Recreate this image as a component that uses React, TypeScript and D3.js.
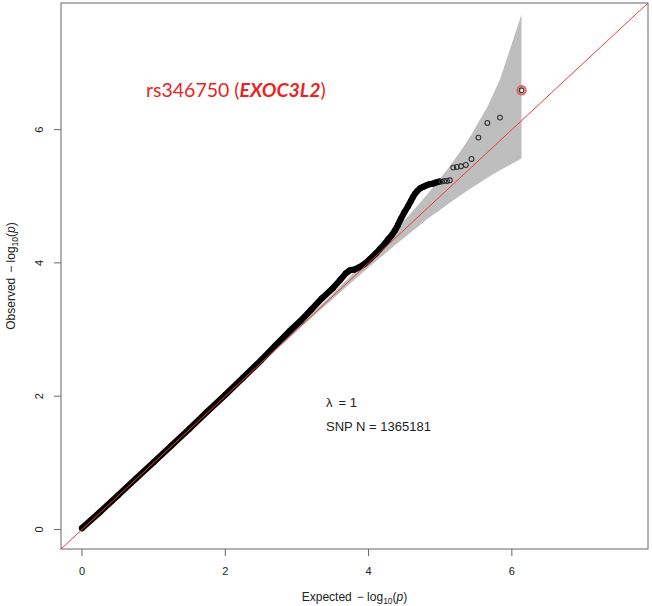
import React from 'react';
import * as d3 from 'd3';

// dense part of the QQ curve (expected vs observed -log10 p)
const denseExpected = [0, 0.25, 0.5, 0.75, 1.0, 1.25, 1.5, 1.75, 2.0, 2.25, 2.5, 2.7, 2.9, 3.05, 3.2, 3.35, 3.5, 3.6, 3.68, 3.74, 3.8, 3.88, 3.95, 4.02, 4.1, 4.16, 4.22, 4.27, 4.32, 4.37, 4.41, 4.45, 4.5, 4.55, 4.59, 4.62, 4.65, 4.68, 4.72, 4.76, 4.8, 4.85, 4.9, 4.95, 4.99];
const denseObserved = [0.02, 0.26, 0.51, 0.76, 1.01, 1.26, 1.51, 1.77, 2.02, 2.28, 2.54, 2.76, 2.98, 3.13, 3.3, 3.47, 3.62, 3.74, 3.84, 3.89, 3.9, 3.94, 3.99, 4.06, 4.14, 4.21, 4.28, 4.35, 4.41, 4.49, 4.57, 4.66, 4.76, 4.85, 4.93, 4.99, 5.04, 5.08, 5.12, 5.14, 5.16, 5.18, 5.19, 5.21, 5.22];

// top hits, drawn as separate circles
const tailExpected = [5.021, 5.056, 5.094, 5.135, 5.181, 5.232, 5.29, 5.357, 5.436, 5.533, 5.658, 5.834, 6.135];
const tailObserved = [5.22, 5.23, 5.23, 5.24, 5.43, 5.44, 5.45, 5.47, 5.56, 5.88, 6.1, 6.18, 6.59];

// 95% confidence band
const bandExpected = [0, 2.135, 3.135, 3.436, 3.834, 4.135, 4.436, 4.658, 4.834, 4.959, 5.135, 5.29, 5.436, 5.658, 5.834, 6.135];
const bandUpper = [0, 2.144, 3.163, 3.475, 3.896, 4.224, 4.566, 4.829, 5.048, 5.211, 5.454, 5.686, 5.925, 6.344, 6.751, 7.732];
const bandLower = [0, 2.126, 3.109, 3.399, 3.776, 4.054, 4.324, 4.515, 4.672, 4.764, 4.902, 5.019, 5.125, 5.276, 5.389, 5.568];

const xTicks = [0, 2, 4, 6];
const yTicks = [0, 2, 4, 6];

const lambdaValue = '1';
const snpCount = '1365181';
const topSnp = 'rs346750';
const topGene = 'EXOC3L2';

const W = 652;
const H = 606;
const box = { left: 61, right: 648, top: 3, bottom: 549 };
const domain: [number, number] = [-0.293, 7.9];
const axisColor = '#666';
const font = '"Liberation Sans", Arial, sans-serif';

export default function App() {
  const x = d3.scaleLinear().domain(domain).range([box.left, box.right]);
  const y = d3.scaleLinear().domain(domain).range([box.bottom, box.top]);

  const dense = denseExpected.map((e, i) => [e, denseObserved[i]] as [number, number]);
  const tail = tailExpected.map((e, i) => [e, tailObserved[i]] as [number, number]);

  const line = d3.line<[number, number]>().x(d => x(d[0])).y(d => y(d[1]));

  const bandPts: [number, number][] = [
    ...bandExpected.map((e, i) => [e, bandUpper[i]] as [number, number]),
    ...bandExpected.map((e, i) => [e, bandLower[i]] as [number, number]).reverse(),
  ];
  const bandPath = line(bandPts) + 'Z';

  const top = tail[tail.length - 1];

  return (
    <svg width={W} height={H} style={{ position: 'absolute', left: 0, top: 0, background: '#fff' }}>
      <rect width={W} height={H} fill="#fff" />
      <path d={bandPath} fill="#bebebe" />

      <path d={line(dense) ?? ''} fill="none" stroke="#000" strokeWidth={6.2} strokeLinecap="round" strokeLinejoin="round" />
      {dense.map((d, i) => (
        <circle key={'d' + i} cx={x(d[0])} cy={y(d[1])} r={2.4} fill="none" stroke="#000" strokeWidth={1.2} />
      ))}
      {tail.map((d, i) => (
        <circle key={'t' + i} cx={x(d[0])} cy={y(d[1])} r={2.4} fill="none" stroke="#333" strokeWidth={1.1} />
      ))}

      {/* y = x reference */}
      <line x1={x(domain[0])} y1={y(domain[0])} x2={x(domain[1])} y2={y(domain[1])} stroke="#ee3b3b" strokeWidth={1} />

      {/* highlighted top SNP */}
      <circle cx={x(top[0])} cy={y(top[1])} r={4.2} fill="none" stroke="#e06666" strokeWidth={2} />

      <rect x={box.left} y={box.top} width={box.right - box.left} height={box.bottom - box.top} fill="none" stroke={axisColor} strokeWidth={1} />

      {xTicks.map(t => (
        <g key={'x' + t}>
          <line x1={x(t)} x2={x(t)} y1={box.bottom} y2={box.bottom + 7} stroke={axisColor} />
          <text x={x(t)} y={575} textAnchor="middle" fontFamily={font} fontSize={11} fill="#222">{t}</text>
        </g>
      ))}
      {yTicks.map(t => (
        <g key={'y' + t}>
          <line x1={box.left} x2={box.left - 7} y1={y(t)} y2={y(t)} stroke={axisColor} />
          <text transform={`translate(43,${y(t)}) rotate(-90)`} textAnchor="middle" fontFamily={font} fontSize={11} fill="#222">{t}</text>
        </g>
      ))}

      <text x={(box.left + box.right) / 2} y={601} textAnchor="middle" fontFamily={font} fontSize={12} fill="#222">
        Expected<tspan dx={5}>− log</tspan><tspan dy={3} fontSize={8.5}>10</tspan><tspan dy={-3}>(</tspan><tspan fontStyle="italic">p</tspan>)
      </text>
      <text transform={`translate(15,${(box.top + box.bottom) / 2}) rotate(-90)`} textAnchor="middle" fontFamily={font} fontSize={12} fill="#222">
        Observed<tspan dx={5}>− log</tspan><tspan dy={3} fontSize={8.5}>10</tspan><tspan dy={-3}>(</tspan><tspan fontStyle="italic">p</tspan>)
      </text>

      <text x={146} y={97} fontFamily="Lato, 'Open Sans', sans-serif" fontSize={19.5} fill="#e8251f">
        {topSnp} (<tspan fontWeight="bold" fontStyle="italic">{topGene}</tspan>)
      </text>

      <text x={326} y={407} fontFamily={font} fontSize={13} fill="#222">
        λ<tspan dx={6}>= {lambdaValue}</tspan>
      </text>
      <text x={326} y={431} fontFamily={font} fontSize={13} fill="#222">
        SNP N = {snpCount}
      </text>
    </svg>
  );
}
